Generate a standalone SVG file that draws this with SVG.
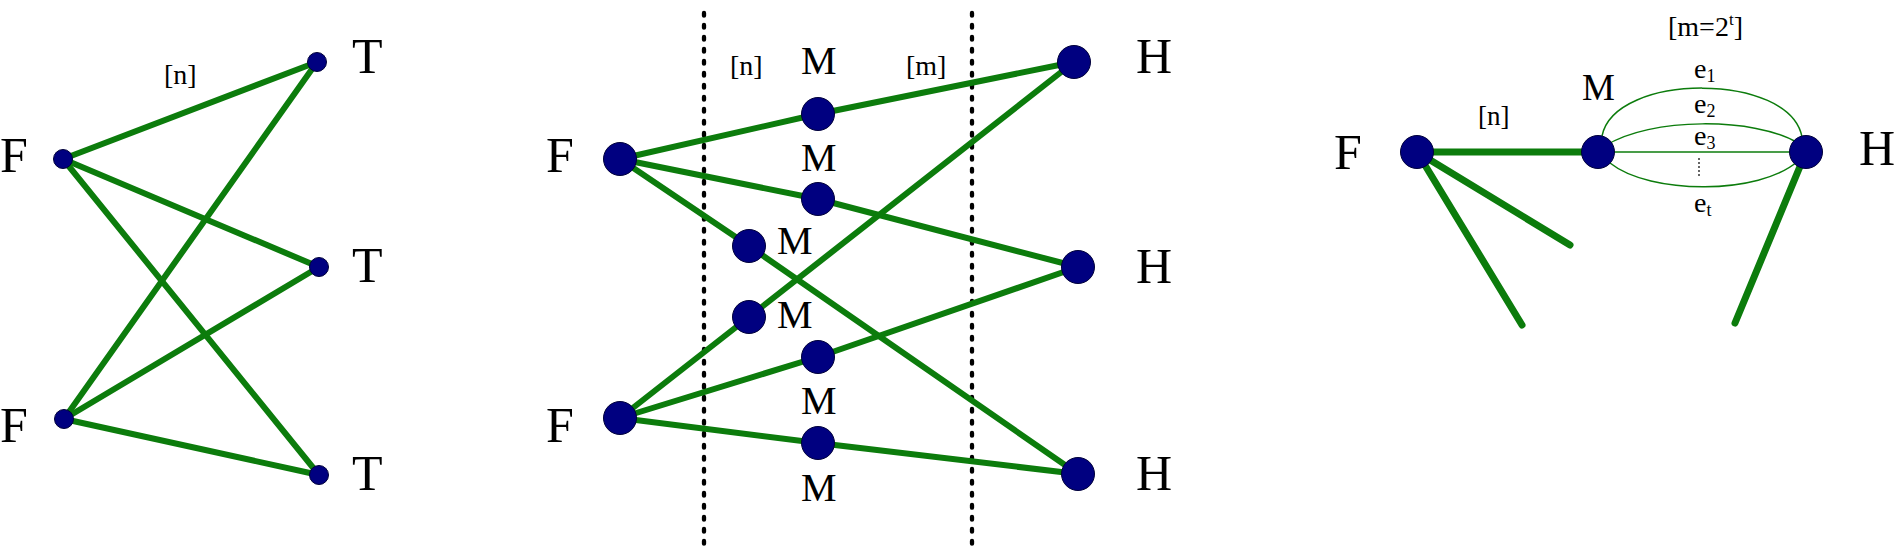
<svg xmlns="http://www.w3.org/2000/svg" width="1895" height="553" viewBox="0 0 1895 553">
<style>
.e{stroke:#0c7c0c;stroke-width:6;stroke-linecap:round;fill:none}
.tk{stroke:#0c7c0c;stroke-width:7;stroke-linecap:round;fill:none}
.th{stroke:#0c7c0c;stroke-width:1.5;fill:none}
.dl{stroke:#000;stroke-width:4.3;stroke-linecap:round;stroke-dasharray:2.7 9.3;fill:none}
.n{fill:#000080;stroke:#00003a;stroke-width:1}
text{font-family:"Liberation Serif","Times New Roman",serif;fill:#000}
.big{font-size:50px}
.mid{font-size:40px}
.lab{font-size:28px}
</style>
<rect width="1895" height="553" fill="#fff"/>
<g id="connectors">
<line class="e" x1="63" y1="159" x2="317" y2="62"/>
<line class="e" x1="63" y1="159" x2="319" y2="267"/>
<line class="e" x1="63" y1="159" x2="319" y2="475"/>
<line class="e" x1="64" y1="419" x2="317" y2="62"/>
<line class="e" x1="64" y1="419" x2="319" y2="267"/>
<line class="e" x1="64" y1="419" x2="319" y2="475"/>
<line class="dl" x1="704" y1="13" x2="704" y2="550"/>
<line class="dl" x1="972" y1="13" x2="972" y2="550"/>
<polyline class="e" points="620,159 818,114 1074,62"/>
<polyline class="e" points="620,159 818,199 1078,267"/>
<polyline class="e" points="620,159 749,246 1078,474"/>
<polyline class="e" points="620,418 749,317 1074,62"/>
<polyline class="e" points="620,418 818,357 1078,267"/>
<polyline class="e" points="620,418 818,443 1078,474"/>
<line class="tk" x1="1417" y1="152" x2="1598" y2="152"/>
<line class="tk" x1="1417" y1="152" x2="1570" y2="245"/>
<line class="tk" x1="1417" y1="152" x2="1522" y2="325"/>
<line class="tk" x1="1806" y1="152" x2="1735" y2="323"/>
<path class="th" d="M1602,136 C1615,72 1790,72 1802,137"/>
<path class="th" d="M1605,146 C1650,117 1755,117 1798,143"/>
<line class="th" x1="1598" y1="152" x2="1806" y2="152"/>
<path class="th" d="M1610,163 C1650,195 1760,195 1798,161"/>
<line x1="1699" y1="158" x2="1699" y2="177" stroke="#000" stroke-width="1.2" stroke-dasharray="2 2"/>
</g>
<g id="left-F1"><circle class="n" cx="63" cy="159" r="9.5"/><text class="big" x="0" y="172">F</text></g>
<g id="left-F2"><circle class="n" cx="64" cy="419" r="9.5"/><text class="big" x="0" y="442">F</text></g>
<g id="left-T1"><circle class="n" cx="317" cy="62" r="9.5"/><text class="big" x="352" y="73">T</text></g>
<g id="left-T2"><circle class="n" cx="319" cy="267" r="9.5"/><text class="big" x="352" y="282">T</text></g>
<g id="left-T3"><circle class="n" cx="319" cy="475" r="9.5"/><text class="big" x="352" y="490">T</text></g>
<text class="lab" x="164" y="84">[n]</text>

<g id="mid-F1"><circle class="n" cx="620" cy="159" r="16.5"/><text class="big" x="546" y="172">F</text></g>
<g id="mid-F2"><circle class="n" cx="620" cy="418" r="16.5"/><text class="big" x="546" y="442">F</text></g>
<g id="mid-M1"><circle class="n" cx="818" cy="114" r="16.5"/><text class="mid" x="801" y="74">M</text></g>
<g id="mid-M2"><circle class="n" cx="818" cy="199" r="16.5"/><text class="mid" x="801" y="171">M</text></g>
<g id="mid-M3"><circle class="n" cx="749" cy="246" r="16.5"/><text class="mid" x="777" y="254">M</text></g>
<g id="mid-M4"><circle class="n" cx="749" cy="317" r="16.5"/><text class="mid" x="777" y="328">M</text></g>
<g id="mid-M5"><circle class="n" cx="818" cy="357" r="16.5"/><text class="mid" x="801" y="414">M</text></g>
<g id="mid-M6"><circle class="n" cx="818" cy="443" r="16.5"/><text class="mid" x="801" y="501">M</text></g>
<g id="mid-H1"><circle class="n" cx="1074" cy="62" r="16.5"/><text class="big" x="1136" y="73">H</text></g>
<g id="mid-H2"><circle class="n" cx="1078" cy="267" r="16.5"/><text class="big" x="1136" y="283">H</text></g>
<g id="mid-H3"><circle class="n" cx="1078" cy="474" r="16.5"/><text class="big" x="1136" y="490">H</text></g>
<text class="lab" x="730" y="75">[n]</text>
<text class="lab" x="906" y="75">[m]</text>

<g id="right-F"><circle class="n" cx="1417" cy="152" r="16.5"/><text class="big" x="1334" y="169">F</text></g>
<g id="right-M"><circle class="n" cx="1598" cy="152" r="16.5"/><text x="1582" y="100" font-size="37">M</text></g>
<g id="right-H"><circle class="n" cx="1806" cy="152" r="16.5"/><text class="big" x="1859" y="165">H</text></g>
<text x="1478" y="125" font-size="27">[n]</text>
<text class="lab" x="1668" y="36">[m=2<tspan font-size="17" dy="-11">t</tspan><tspan dy="11">]</tspan></text>
<text class="lab" x="1694" y="78">e<tspan font-size="18" dy="4">1</tspan></text>
<text class="lab" x="1694" y="113">e<tspan font-size="18" dy="4">2</tspan></text>
<text class="lab" x="1694" y="145">e<tspan font-size="18" dy="4">3</tspan></text>
<text class="lab" x="1694" y="212">e<tspan font-size="18" dy="4">t</tspan></text>
</svg>
